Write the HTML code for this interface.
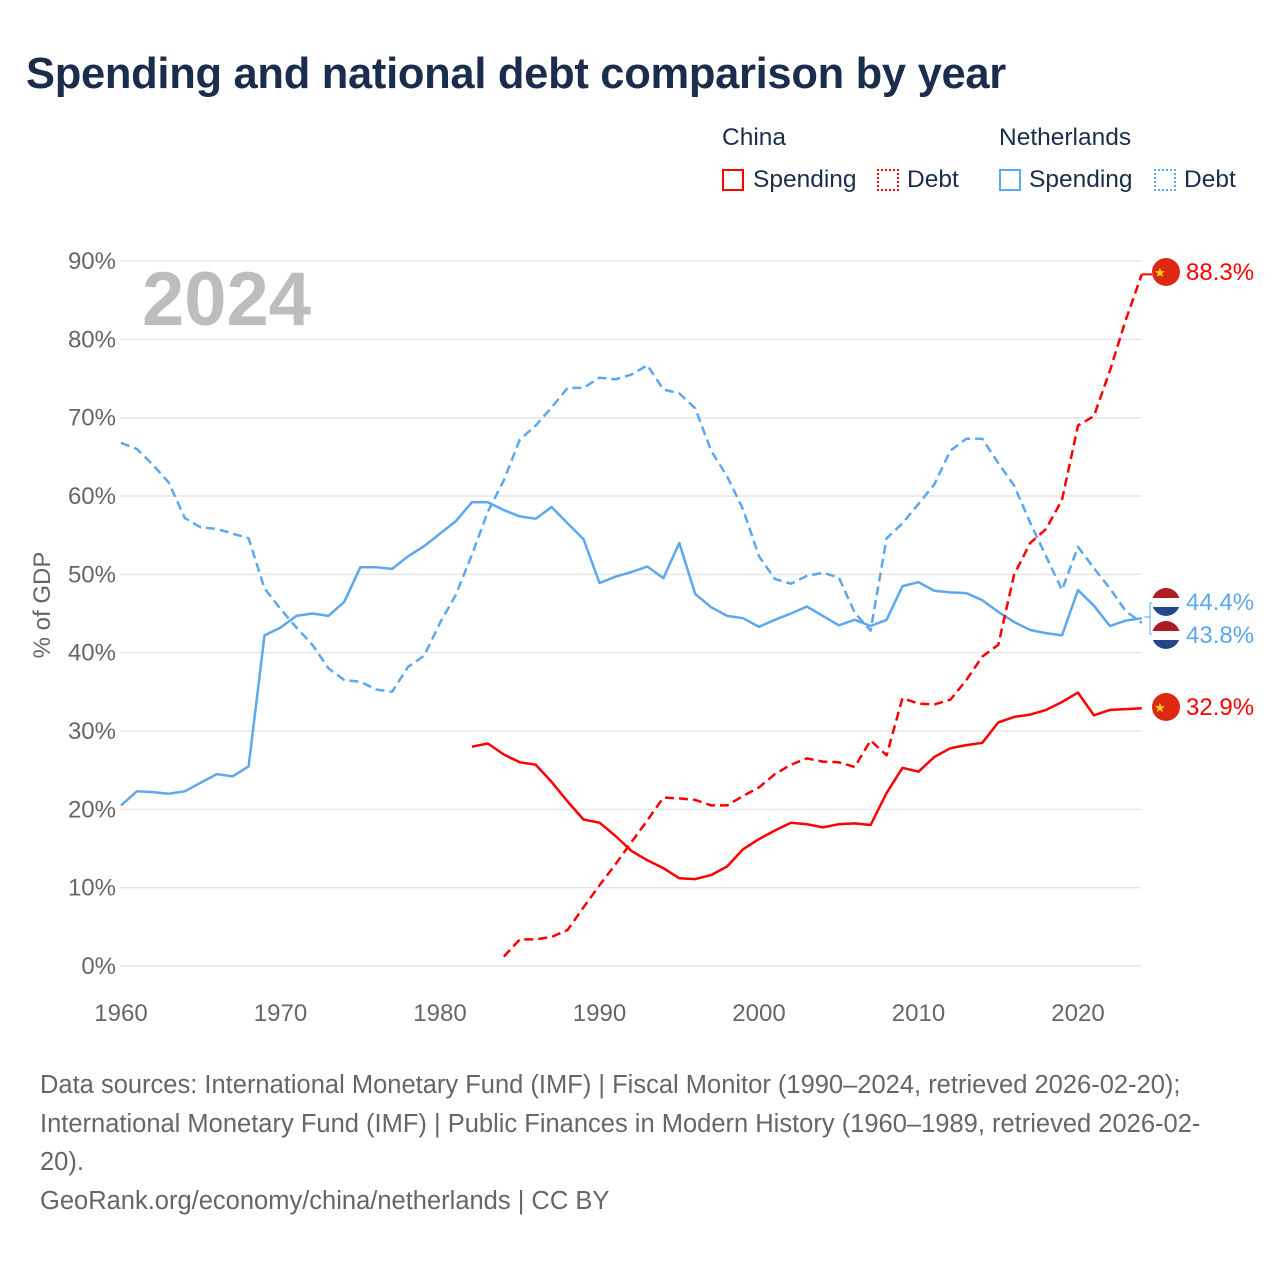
<!DOCTYPE html>
<html><head><meta charset="utf-8">
<style>
body{margin:0;background:#fff;font-family:"Liberation Sans",sans-serif;}
#wrap{position:relative;width:1280px;height:1280px;overflow:hidden;}
h1{position:absolute;left:26px;top:50px;margin:0;font-size:43.5px;font-weight:bold;color:#1b2d4c;letter-spacing:-0.3px;}
.lg{position:absolute;font-size:24.5px;color:#1b2d4c;}
.box{position:absolute;width:22px;height:22px;box-sizing:border-box;}
#foot{position:absolute;left:40px;top:1066px;width:1240px;font-size:25.5px;line-height:38.5px;color:#666;white-space:nowrap;}
</style></head><body>
<div id="wrap">
<h1>Spending and national debt comparison by year</h1>
<div class="lg" style="left:722px;top:124px">China</div>
<div class="box" style="left:722px;top:169px;border:2px solid #f00"></div>
<div class="lg" style="left:753px;top:166px">Spending</div>
<div class="box" style="left:877px;top:169px;border:2px dotted #f00"></div>
<div class="lg" style="left:907px;top:166px">Debt</div>
<div class="lg" style="left:999px;top:124px">Netherlands</div>
<div class="box" style="left:999px;top:169px;border:2px solid #5ca8ee"></div>
<div class="lg" style="left:1029px;top:166px">Spending</div>
<div class="box" style="left:1154px;top:169px;border:2px dotted #5ca8ee"></div>
<div class="lg" style="left:1184px;top:166px">Debt</div>
<svg id="plot" width="1280" height="1280" style="position:absolute;left:0;top:0"></svg>
<div id="foot">Data sources: International Monetary Fund (IMF) | Fiscal Monitor (1990–2024, retrieved 2026-02-20);<br>International Monetary Fund (IMF) | Public Finances in Modern History (1960–1989, retrieved 2026-02-<br>20).<br>GeoRank.org/economy/china/netherlands | CC BY</div>
</div>
<script>
const yTicks=[0,10,20,30,40,50,60,70,80,90];
const xTicks=[1960,1970,1980,1990,2000,2010,2020];
const nlStart=1960;
const nlSpending=[20.5,22.3,22.2,22,22.3,23.4,24.5,24.2,25.5,42.2,43.2,44.7,45,44.7,46.5,50.9,50.9,50.7,52.3,53.6,55.2,56.8,59.2,59.2,58.2,57.4,57.1,58.6,56.5,54.5,48.9,49.7,50.3,51,49.5,54,47.5,45.8,44.7,44.4,43.3,44.2,45,45.9,44.7,43.5,44.2,43.4,44.2,48.5,49,47.9,47.7,47.6,46.7,45.2,43.9,42.9,42.5,42.2,48,46,43.4,44.1,44.4];
const nlDebt=[66.8,66,64,61.7,57.2,56,55.8,55.2,54.6,48.2,45.6,43.2,41,38,36.5,36.3,35.3,35,38.2,39.6,43.8,47.4,52.5,58,62,67.2,69,71.3,73.8,73.8,75.1,74.9,75.5,76.7,73.6,73.1,71.2,65.8,62.5,58.3,52.3,49.4,48.8,49.8,50.2,49.6,45.1,42.8,54.6,56.5,59,61.5,65.8,67.3,67.3,64.2,61.3,56.6,52.3,48,53.5,50.8,48.2,45.3,43.8];
const cnSpendStart=1982;
const cnSpending=[28,28.4,27,26,25.7,23.5,21,18.7,18.3,16.6,14.7,13.5,12.5,11.2,11.1,11.6,12.7,14.9,16.2,17.3,18.3,18.1,17.7,18.1,18.2,18,22.1,25.3,24.8,26.7,27.8,28.2,28.5,31.1,31.8,32.1,32.7,33.7,34.9,32,32.7,32.8,32.9];
const cnDebtStart=1984;
const cnDebt=[1.2,3.4,3.4,3.7,4.6,7.5,10.3,13,15.8,18.6,21.5,21.4,21.2,20.5,20.5,21.7,22.8,24.5,25.7,26.5,26.1,26,25.4,28.8,26.9,34.2,33.5,33.4,34,36.5,39.5,41,50,54,55.8,59.5,69,70.2,76,82.5,88.3];

const svg=document.getElementById('plot');
const NS='http://www.w3.org/2000/svg';
const X=y=>121+(y-1960)*15.95;
const Y=v=>966-v*7.833;
function mk(t,a){const e=document.createElementNS(NS,t);for(const k in a)e.setAttribute(k,a[k]);svg.appendChild(e);return e;}
yTicks.forEach(v=>{
 const g=mk('line',{x1:120,x2:1141,y1:Y(v),y2:Y(v),stroke:'#e6e6e6','stroke-width':1.5});
 
 
 const t=mk('text',{x:116,y:Y(v)+8,'text-anchor':'end','font-size':24,fill:'#666','font-family':'Liberation Sans, sans-serif'});
 t.textContent=v+'%';
 
 
});
xTicks.forEach(y=>{
 const t=mk('text',{x:X(y),y:1021,'text-anchor':'middle','font-size':24,fill:'#666','font-family':'Liberation Sans, sans-serif'});
 t.textContent=y;
 
 
});
const yt=mk('text',{x:0,y:0,transform:'translate(50,605) rotate(-90)','text-anchor':'middle','font-size':24,fill:'#666','font-family':'Liberation Sans, sans-serif'});
yt.textContent='% of GDP';


const wm=mk('text',{x:142,y:325,'font-size':76,'font-weight':'bold',fill:'#bdbdbd','font-family':'Liberation Sans, sans-serif'});
wm.textContent='2024';


function series(arr,start,color,dash,name){
 const d=arr.map((v,i)=>(i?'L':'M')+X(start+i).toFixed(1)+','+Y(v).toFixed(1)).join('');
 const p=mk('path',{d:d,fill:'none',stroke:color,'stroke-width':2.5,'stroke-linejoin':'round'});
 if(dash)p.setAttribute('stroke-dasharray','9,5');
 
 
}
series(nlSpending,nlStart,'#5ca8ee',false,'nl-spending-line');
series(nlDebt,nlStart,'#5ca8ee',true,'nl-debt-line');
series(cnSpending,cnSpendStart,'#f00',false,'china-spending-line');
series(cnDebt,cnDebtStart,'#f00',true,'china-debt-line');
function flagCN(cy,val,name){
 const g=document.createElementNS(NS,'g');svg.appendChild(g);
 
 
 g.innerHTML='<circle cx="1166" cy="'+cy+'" r="14" fill="#de2910"/><text x="1160" y="'+(cy+5)+'" font-size="13" fill="#ffde00" text-anchor="middle">★</text><text x="1186" y="'+(cy+8)+'" font-size="24" fill="#f00" font-family="Liberation Sans, sans-serif">'+val+'%</text>';
}
function flagNL(cy,val,name){
 const g=document.createElementNS(NS,'g');svg.appendChild(g);
 
 
 const id='c'+Math.round(cy);
 g.innerHTML='<clipPath id="'+id+'"><circle cx="1166" cy="'+cy+'" r="14"/></clipPath><g clip-path="url(#'+id+')"><rect x="1152" y="'+(cy-14)+'" width="28" height="10" fill="#ae1c28"/><rect x="1152" y="'+(cy-4)+'" width="28" height="9" fill="#fff"/><rect x="1152" y="'+(cy+5)+'" width="28" height="10" fill="#21468b"/></g><text x="1186" y="'+(cy+8)+'" font-size="24" fill="#5ca8ee" font-family="Liberation Sans, sans-serif">'+val+'%</text>';
}
mk('path',{d:'M1144,617 L1150,617 L1150,603 L1156,603 M1150,617 L1150,634 L1156,634',fill:'none',stroke:'#5ca8ee','stroke-width':1});
mk('line',{x1:X(2024),x2:1152,y1:Y(88.3),y2:Y(88.3),stroke:'#f00','stroke-width':2});
flagCN(272,cnDebt[cnDebt.length-1],'china-debt-end-label');
flagCN(707,cnSpending[cnSpending.length-1],'china-spending-end-label');
flagNL(602,nlSpending[nlSpending.length-1],'nl-spending-end-label');
flagNL(635,nlDebt[nlDebt.length-1],'nl-debt-end-label');
</script>
</body></html>
